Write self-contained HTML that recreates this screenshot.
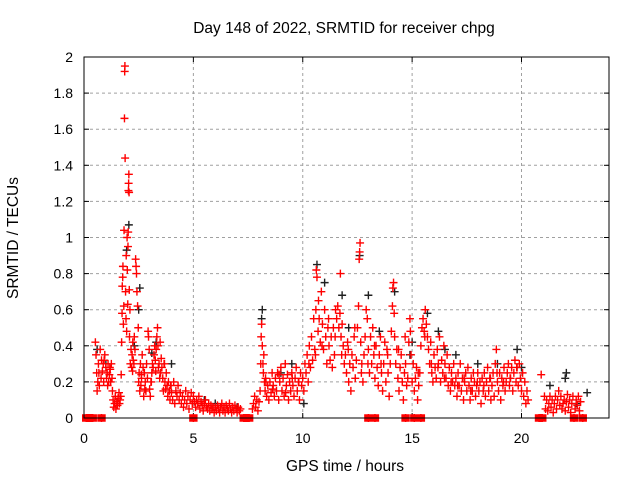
<!DOCTYPE html>
<html><head><meta charset="utf-8"><style>
body{margin:0;background:#fff}
svg{display:block;font-family:"Liberation Sans",sans-serif}
</style></head><body>
<svg width="640" height="480" xmlns="http://www.w3.org/2000/svg">
<rect width="640" height="480" fill="#fff"/>
<text x="344" y="33" text-anchor="middle" font-size="15.5">Day 148 of 2022, SRMTID for receiver chpg</text>
<text x="345" y="471" text-anchor="middle" font-size="15.5">GPS time / hours</text>
<text transform="translate(18,238) rotate(-90)" text-anchor="middle" font-size="15.5">SRMTID / TECUs</text>
<g id="grid"></g><g id="ticks"></g><g id="black"></g><g id="red"></g>
<rect x="84" y="57" width="525" height="361" fill="none" stroke="#000" stroke-width="1"/>
</svg>
<script>
const xTicks=[0,5,10,15,20];
const yTicks=[0,0.2,0.4,0.6,0.8,1,1.2,1.4,1.6,1.8,2];
const yTickLabels=["0","0.2","0.4","0.6","0.8","1","1.2","1.4","1.6","1.8","2"];
const redTimes=[0.1,0.15,0.2,0.25,0.3,0.35,0.4,0.8,5.0,7.3,7.35,7.4,7.45,7.5,7.55,13.0,13.3,14.7,15.1,15.4,20.8,20.85,20.9,20.95,22.4,22.8,
0.52,0.55,0.58,0.6,0.63,0.66,0.7,0.74,0.78,0.8,0.84,0.88,0.9,0.95,1.0,1.03,1.06,1.1,1.13,1.16,1.2,1.22,1.25,1.28,1.3,
1.33,1.36,1.4,1.43,1.46,1.5,1.53,1.56,1.6,1.62,1.65,1.68,
1.7,1.72,1.74,1.75,1.77,1.78,1.8,1.82,1.83,1.85,1.86,1.87,1.88,1.9,1.92,1.93,1.95,1.97,1.98,2.0,2.01,2.02,2.03,2.04,2.05,2.06,2.07,2.08,2.1,2.12,2.15,2.18,2.2,2.23,2.25,2.28,2.3,2.33,2.36,2.38,2.4,2.42,2.45,2.48,2.5,2.52,2.55,2.58,2.6,2.63,2.66,2.7,2.73,2.76,2.8,2.83,2.86,2.9,
2.93,2.95,2.98,3.0,3.03,3.06,3.1,3.13,3.16,3.2,3.23,3.26,3.3,3.33,3.36,3.38,3.4,3.43,3.46,3.5,3.53,3.56,3.6,3.63,3.66,3.7,3.73,3.76,3.8,3.83,3.86,3.9,3.93,3.96,4.0,4.05,4.1,4.15,4.2,4.25,4.3,4.35,4.4,4.45,4.5,4.55,4.6,4.65,4.7,4.75,4.8,4.85,4.9,4.95,5.0,5.05,5.1,5.15,5.2,5.25,5.3,5.35,5.4,5.45,5.5,5.55,5.6,5.65,5.7,5.75,5.8,5.85,5.9,5.95,6.0,6.05,6.1,6.15,6.2,6.25,6.3,6.35,6.4,6.45,6.5,6.55,6.6,6.65,6.7,6.75,6.8,6.85,6.9,6.95,7.0,7.05,7.1,7.15,
7.7,7.75,7.8,7.85,7.9,7.95,8.0,8.05,8.08,8.1,8.12,8.15,8.18,8.2,8.22,8.25,8.28,8.3,8.35,8.4,8.45,8.5,8.55,8.6,8.65,8.7,8.75,8.8,8.85,8.9,8.95,9.0,9.05,9.1,9.15,9.2,9.25,9.3,9.35,9.4,9.45,9.5,9.55,9.6,9.65,9.7,9.75,9.8,9.85,9.9,9.95,10.0,10.05,10.1,10.15,10.2,10.25,10.3,10.35,10.4,10.45,10.5,10.55,10.6,10.62,10.65,10.7,10.72,10.75,10.8,10.85,10.9,10.95,11.0,11.05,11.1,11.15,11.2,11.25,11.3,11.35,11.4,11.45,11.5,11.55,11.6,11.65,11.7,11.72,11.75,11.8,11.85,11.9,11.95,12.0,12.05,12.1,12.15,12.2,12.25,12.3,12.35,12.4,12.45,12.5,12.55,12.58,12.6,12.62,12.65,12.7,12.75,12.8,12.85,12.9,12.95,13.0,13.05,13.1,13.15,13.2,13.25,13.3,13.35,13.4,13.45,13.5,13.55,13.6,13.65,13.7,13.75,13.8,13.85,13.9,13.95,14.0,14.05,14.1,14.12,14.15,14.18,14.2,14.25,14.3,14.35,14.4,14.45,14.5,14.55,14.6,14.65,14.7,14.75,14.8,14.85,14.9,14.92,14.95,15.0,15.05,15.1,15.15,15.2,15.25,15.3,15.35,15.4,15.45,15.5,15.55,15.6,15.65,15.7,15.75,15.8,15.85,15.9,15.95,16.0,16.05,16.1,16.15,16.2,16.25,16.3,16.35,16.4,16.45,16.5,16.55,16.6,16.65,16.7,16.75,16.8,16.85,16.9,16.95,17.0,17.05,17.1,17.15,17.2,17.25,17.3,17.35,17.4,17.45,17.5,17.55,17.6,17.65,17.7,17.75,17.8,17.85,17.9,17.95,18.0,18.05,18.1,18.15,18.2,18.25,18.3,18.35,18.4,18.45,18.5,18.55,18.6,18.65,18.7,18.75,18.8,18.85,18.9,18.95,19.0,19.05,19.1,19.15,19.2,19.25,19.3,19.35,19.4,19.45,19.5,19.55,19.6,19.65,19.7,19.75,19.8,19.85,19.9,19.95,20.0,20.05,20.1,20.15,20.2,20.25,20.3,
20.9,21.05,21.1,21.15,21.2,21.25,21.3,21.35,21.4,21.45,21.5,21.55,21.6,21.65,21.7,21.75,21.8,21.85,21.9,21.95,22.0,22.05,22.1,22.15,22.2,22.25,22.3,22.35,22.45,22.5,22.55,22.6,22.65,22.7,
0.68,0.92,1.08,1.18,2.22,2.62,2.78,3.08,3.28,3.48,3.68,3.98,8.32,8.62,8.92,9.22,9.52,9.82,10.28,10.58,10.88,11.18,11.48,11.78,12.08,12.38,12.68,12.98,13.28,13.58,13.88,14.38,14.68,15.28,15.58,15.88,16.18,16.48,16.78,17.08,17.38,17.68,17.98,18.28,18.58,18.88,19.18,19.48,19.78];
const redValues=[0,0,0,0,0,0,0,0,0,0,0,0,0,0,0,0,0,0,0,0,0,0,0,0,0,0,
.42,.35,.25,.15,.2,.3,.18,.38,.22,.32,.26,.3,.2,.35,.28,.22,.25,.3,.2,.24,.27,.2,.3,.22,.15,
.1,.06,.08,.12,.05,.09,.07,.11,.14,.08,.1,.12,
.24,.42,.58,.73,.78,.84,.52,.62,1.04,1.66,1.92,1.95,1.44,.7,.55,.9,.48,1.0,.82,.63,.95,1.03,1.26,1.3,1.35,1.25,.71,.45,.6,.3,.38,.28,.35,.42,.32,.3,.45,.38,.88,.84,.8,.7,.62,.5,.2,.25,.15,.3,.18,.22,.35,.28,.12,.25,.2,.15,.3,.22,
.48,.45,.38,.16,.12,.2,.25,.3,.28,.35,.4,.32,.38,.45,.5,.4,.28,.3,.22,.25,.33,.28,.22,.15,.3,.2,.16,.25,.18,.12,.2,.15,.1,.18,.14,.1,.2,.08,.15,.12,.18,.1,.14,.08,.12,.06,.1,.15,.08,.12,.05,.1,.14,.08,.12,.09,.06,.1,.08,.12,.05,.09,.07,.04,.08,.1,.06,.05,.08,.04,.07,.05,.06,.03,.06,.04,.07,.05,.03,.06,.08,.04,.06,.03,.07,.05,.04,.08,.05,.03,.06,.04,.07,.05,.03,.06,.04,.05,
.05,.08,.12,.06,.1,.04,.09,.15,.3,.45,.52,.4,.3,.25,.35,.2,.15,.22,.12,.18,.1,.2,.14,.25,.18,.12,.22,.15,.25,.1,.2,.28,.15,.22,.12,.3,.18,.24,.1,.2,.15,.25,.18,.12,.22,.28,.15,.2,.1,.25,.18,.22,.15,.3,.25,.35,.2,.4,.28,.45,.32,.55,.38,.6,.82,.78,.48,.65,.55,.42,.7,.52,.38,.6,.45,.3,.5,.4,.32,.45,.28,.5,.35,.6,.55,.62,.5,.58,.8,.45,.52,.4,.3,.35,.25,.42,.2,.3,.15,.35,.28,.45,.22,.32,.5,.62,.88,.92,.97,.42,.3,.2,.35,.45,.6,.55,.38,.25,.45,.3,.5,.35,.22,.4,.28,.18,.35,.45,.25,.15,.3,.42,.2,.38,.25,.12,.3,.48,.62,.72,.75,.58,.45,.3,.38,.22,.15,.28,.35,.2,.1,.25,.3,.18,.22,.42,.55,.48,.35,.2,.3,.15,.22,.28,.1,.18,.25,.4,.5,.55,.48,.6,.52,.45,.38,.3,.42,.25,.2,.35,.28,.22,.38,.3,.45,.2,.32,.25,.4,.3,.22,.35,.18,.28,.15,.25,.2,.3,.18,.22,.12,.25,.18,.3,.15,.22,.1,.2,.25,.15,.28,.18,.1,.22,.15,.25,.2,.12,.18,.25,.15,.2,.08,.22,.15,.25,.12,.2,.28,.15,.22,.1,.18,.25,.12,.3,.38,.2,.15,.25,.1,.22,.18,.28,.15,.2,.25,.3,.18,.22,.28,.15,.25,.32,.2,.28,.18,.3,.22,.15,.25,.12,.2,.08,.15,.1,
.24,.12,.05,.1,.04,.08,.12,.06,.1,.03,.08,.12,.05,.1,.15,.07,.12,.05,.08,.1,.04,.09,.13,.06,.1,.03,.08,.12,.05,.1,.07,.12,.04,.09,
.25,.32,.18,.28,.26,.24,.16,.2,.26,.42,.3,.18,.2,.16,.24,.14,.22,.2,.3,.35,.4,.55,.45,.35,.38,.5,.25,.3,.4,.3,.35,.38,.45,.25,.45,.3,.28,.22,.2,.18,.22,.15,.2,.18,.22,.25,.2,.22,.28];
const blackTimes=[0.6,1.0,2.5,2.55,3.1,3.3,4.0,8.15,8.12,9.0,10.05,10.65,11.8,12.1,12.6,13.0,13.5,14.2,14.9,15.7,16.2,17.0,18.0,18.9,19.8,20.0,21.3,22.0,22.05,22.5,23.0,2.05,1.95,2.3,6.0,7.0,5.5,9.5,11.0,15.0,16.5];
const blackValues=[.38,.3,.6,.72,.36,.42,.3,.6,.55,.25,.08,.85,.68,.5,.9,.68,.48,.7,.35,.58,.48,.35,.3,.3,.38,.28,.18,.22,.25,.08,.14,1.07,.93,.4,.08,.06,.1,.3,.75,.42,.38];
const X0=84,X1=609,Y0=418,Y1=57,XMAX=24,YMAX=2;
const sx=t=>X0+(X1-X0)*t/XMAX, sy=v=>Y0-(Y0-Y1)*v/YMAX;
const NS="http://www.w3.org/2000/svg";
function mk(tag,attrs,parent){const e=document.createElementNS(NS,tag);for(const k in attrs)e.setAttribute(k,attrs[k]);parent.appendChild(e);return e;}
const grid=document.getElementById('grid'),ticks=document.getElementById('ticks');
yTicks.forEach((v,i)=>{const y=sy(v);
 if(i>0&&i<yTicks.length-1){const g=mk('line',{x1:X0,x2:X1,y1:y,y2:y,stroke:'#a0a0a0','stroke-dasharray':'3,3'},grid);
 
 }
 mk('line',{x1:X0,x2:X0+5,y1:y,y2:y,stroke:'#000'},ticks);
 mk('line',{x1:X1-5,x2:X1,y1:y,y2:y,stroke:'#000'},ticks);
 const t=mk('text',{x:X0-11,y:y+5,'text-anchor':'end','font-size':14},ticks);t.textContent=yTickLabels[i];
 
 });
xTicks.forEach(v=>{const x=sx(v);
 if(v>0){const g=mk('line',{x1:x,x2:x,y1:Y0,y2:Y1,stroke:'#a0a0a0','stroke-dasharray':'3,3'},grid);
 
 }
 mk('line',{x1:x,x2:x,y1:Y0,y2:Y0-5,stroke:'#000'},ticks);
 mk('line',{x1:x,x2:x,y1:Y1,y2:Y1+5,stroke:'#000'},ticks);
 const t=mk('text',{x:x,y:443,'text-anchor':'middle','font-size':14},ticks);t.textContent=String(v);
 
 });
function plot(times,vals,color,gid,name){const g=document.getElementById(gid);let d='';
 times.forEach((t,i)=>{const x=sx(t),y=sy(vals[i]);
  if(vals[i]===0){d+=`M${x-3.5} ${y-3}h7v6h-7z`;}
  d+=`M${x-4} ${y}h8M${x} ${y-4}v8`;});
 const p=mk('path',{d:d,stroke:color,'stroke-width':1.4,fill:color},g);
 
 }
plot(blackTimes,blackValues,'#202020','black','srmtid-series-black');
plot(redTimes,redValues,'#ff0000','red','srmtid-series-red');
</script>
</body></html>
